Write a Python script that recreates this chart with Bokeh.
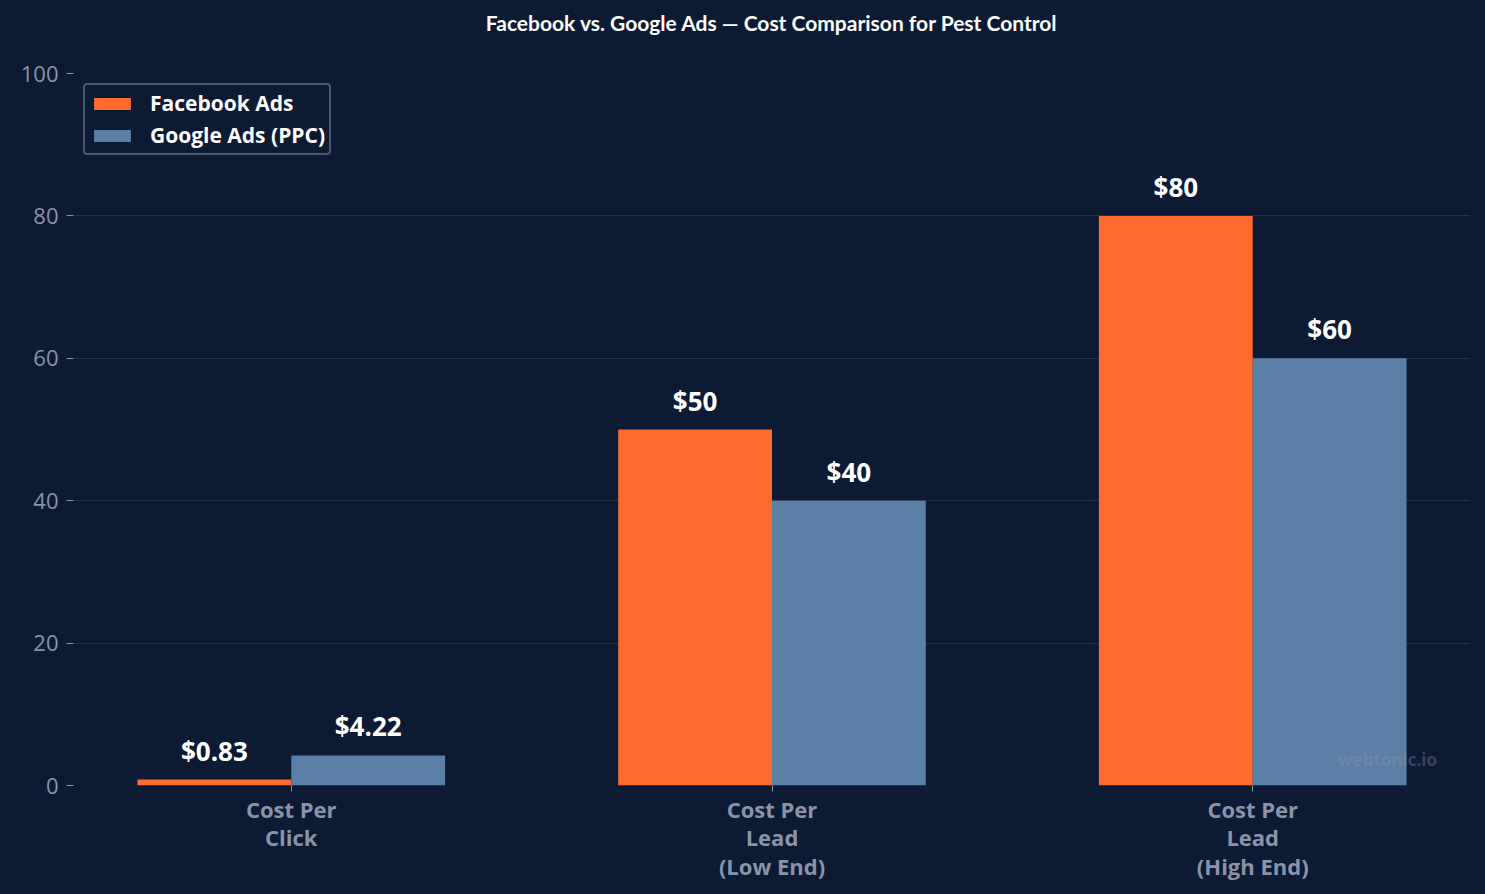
from bokeh.plotting import figure
from bokeh.models import ColumnDataSource, Range1d, FixedTicker, Legend, LegendItem, Label, Title
from bokeh.core.properties import value
from bokeh.embed import file_html
from bokeh.resources import INLINE

title_text = "Facebook vs. Google Ads \u2014 Cost Comparison for Pest Control"
categories = ["Cost Per\nClick", "Cost Per\nLead\n(Low End)", "Cost Per\nLead\n(High End)"]
facebook = [0.83, 50, 80]
google = [4.22, 40, 60]
fb_labels = ["$0.83", "$50", "$80"]
gg_labels = ["$4.22", "$40", "$60"]
y_ticks = [0, 20, 40, 60, 80, 100]

BG = "#0c1a33"
ORANGE = "#ff6b2f"
BLUE = "#5b80a5"
GRAY = "#8a94a8"

xs = list(range(len(categories)))
fb_src = ColumnDataSource(dict(x=[i - 0.16 for i in xs], top=facebook, lab=fb_labels))
gg_src = ColumnDataSource(dict(x=[i + 0.16 for i in xs], top=google, lab=gg_labels))

p = figure(width=1485, height=894, output_backend="svg", toolbar_location=None,
           x_range=Range1d(-0.453, 2.453), y_range=Range1d(0, 100),
           min_border_left=73, min_border_right=15, min_border_top=0, min_border_bottom=109,
           background_fill_color=BG, border_fill_color=BG, outline_line_color=None)
p.styles = {"background-color": BG}

# spacer panel between frame and title, then the title above it
p.add_layout(Title(text=" ", text_font_size="1px", text_color=BG, standoff=28), "above")
p.add_layout(Title(text=title_text, text_color="white", text_font="Lato", text_font_size="21px",
                   text_font_style="bold", align="center", standoff=15), "above")

r1 = p.vbar(x="x", top="top", width=0.32, bottom=0, source=fb_src, fill_color=ORANGE, line_color=None)
r2 = p.vbar(x="x", top="top", width=0.32, bottom=0, source=gg_src, fill_color=BLUE, line_color=None)

for src in (fb_src, gg_src):
    p.text(x="x", y="top", text="lab", source=src, text_color="white",
           text_font=value("Open Sans"), text_font_size="26px", text_font_style="bold",
           text_align="center", text_baseline="bottom", y_offset=-11)

p.add_layout(Label(x=1314, y=26, x_units="screen", y_units="screen", text="webtonic.io",
                   text_color=GRAY, text_alpha=0.35, text_font="Open Sans", text_font_size="17px",
                   text_font_style="bold", text_align="center", text_baseline="middle"))

# axes
p.xaxis.ticker = FixedTicker(ticks=xs)
p.xaxis.major_label_overrides = {i: c for i, c in zip(xs, categories)}
p.xaxis.axis_line_color = None
p.xaxis.major_tick_line_color = GRAY
p.xaxis.major_tick_in = 0
p.xaxis.major_tick_out = 6
p.xaxis.minor_tick_line_color = None
p.xaxis.major_label_text_color = GRAY
p.xaxis.major_label_text_font = "Open Sans"
p.xaxis.major_label_text_font_size = "22px"
p.xaxis.major_label_text_font_style = "bold"
p.xaxis.major_label_text_line_height = 0.95
p.xaxis.major_label_standoff = 2

p.yaxis.ticker = FixedTicker(ticks=y_ticks)
p.yaxis.axis_line_color = None
p.yaxis.major_tick_line_color = GRAY
p.yaxis.major_tick_in = 0
p.yaxis.major_tick_out = 7
p.yaxis.minor_tick_line_color = None
p.yaxis.major_label_text_color = GRAY
p.yaxis.major_label_text_font = "Open Sans"
p.yaxis.major_label_text_font_size = "22px"
p.yaxis.major_label_standoff = 8

p.xgrid.grid_line_color = None
p.ygrid.grid_line_color = "#24334d"
p.ygrid.grid_line_width = 1

legend = Legend(items=[LegendItem(label="Facebook Ads", renderers=[r1]),
                       LegendItem(label="Google Ads (PPC)", renderers=[r2])],
                location="top_left")
legend.background_fill_color = BG
legend.background_fill_alpha = 1
legend.border_line_color = GRAY
legend.border_line_width = 2
legend.border_radius = 4
legend.label_text_color = "white"
legend.label_text_font = "Open Sans"
legend.label_text_font_size = "21px"
legend.label_text_font_style = "bold"
legend.glyph_width = 46
legend.glyph_height = 15
legend.label_standoff = 15
legend.spacing = 4
legend.padding = 4
legend.margin = 10
p.add_layout(legend)

html = file_html(p, INLINE)
html = html.replace("<body>", '<body style="margin:0;background:%s;">' % BG, 1)
open("out.html", "w").write(html)
